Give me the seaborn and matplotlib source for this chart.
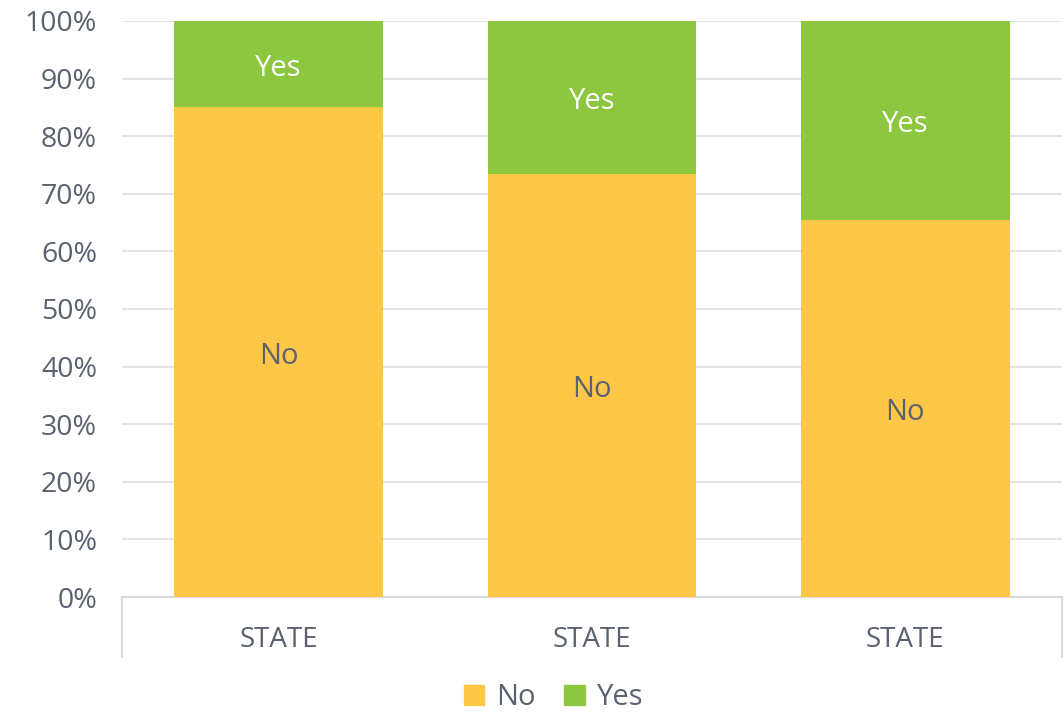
import matplotlib.pyplot as plt
import pandas as pd
import seaborn as sns
from matplotlib.lines import Line2D
from matplotlib.patches import Patch
from matplotlib.ticker import FuncFormatter

sns.set_theme(style="white")
plt.rcParams['font.family'] = ['Open Sans', 'DejaVu Sans']

categories = ["STATE", "STATE", "STATE"]
no_share = [85.0, 73.5, 65.5]
yes_share = [15.0, 26.5, 34.5]

df = pd.DataFrame({
    "pos": list(range(len(categories))),
    "No": no_share,
    "Yes": yes_share,
})
df["total"] = df["No"] + df["Yes"]

text_color = "#5A6270"
no_color = "#FFC748"
yes_color = "#8DC63F"

fig = plt.figure(figsize=(10.64, 7.15), dpi=100)
ax = fig.add_axes([122 / 1064, 118 / 715, 940 / 1064, 576 / 715])

# stacked: full height in green, then the "No" part drawn over it
sns.barplot(data=df, x="pos", y="total", color=yes_color, saturation=1,
            width=0.667, linewidth=0, ax=ax, zorder=2)
sns.barplot(data=df, x="pos", y="No", color=no_color, saturation=1,
            width=0.667, linewidth=0, ax=ax, zorder=3)

bars_yes = ax.containers[0]
bars_no = ax.containers[1]
for bar, no in zip(bars_yes, df["No"]):
    h = bar.get_height()
    ax.text(bar.get_x() + bar.get_width() / 2, (no + h) / 2 - 0.8, "Yes",
            ha="center", va="center", color="white", fontsize=21, zorder=4)
for bar in bars_no:
    ax.text(bar.get_x() + bar.get_width() / 2, bar.get_height() / 2 - 0.8, "No",
            ha="center", va="center", color=text_color, fontsize=21, zorder=4)

ax.set_ylim(0, 100)
ax.set_xlim(-0.5, len(categories) - 0.5)
ax.set_yticks(range(0, 101, 10))
ax.yaxis.set_major_formatter(FuncFormatter(lambda v, _: f"{int(v)}%"))
ax.set_xticks(df["pos"])
ax.set_xticklabels(categories)
ax.tick_params(axis="y", labelsize=20.5, labelcolor=text_color, length=0, pad=18)
ax.tick_params(axis="x", labelsize=20, labelcolor=text_color, length=0, pad=21)
ax.set_xlabel("")
ax.set_ylabel("")

ax.yaxis.grid(True, color="#E3E3E3", linewidth=1.5, zorder=0)
ax.set_axisbelow(True)
for side in ["top", "left", "right"]:
    ax.spines[side].set_visible(False)
ax.spines["bottom"].set_color("#DADADA")
ax.spines["bottom"].set_linewidth(1.5)

# category box edges below the axis
for xe in [0, 1]:
    ax.add_line(Line2D([xe, xe], [0, -60 / 576], transform=ax.transAxes,
                       color="#DADADA", linewidth=1.5, clip_on=False))

handles = [Patch(color=no_color, label="No"), Patch(color=yes_color, label="Yes")]
fig.legend(handles=handles, loc="center", bbox_to_anchor=(0.52, 0.024),
           ncol=2, frameon=False, fontsize=21, labelcolor=text_color,
           handlelength=0.7, handleheight=0.7, handletextpad=0.4,
           columnspacing=1.0)

fig.savefig("out.png", dpi=100)
